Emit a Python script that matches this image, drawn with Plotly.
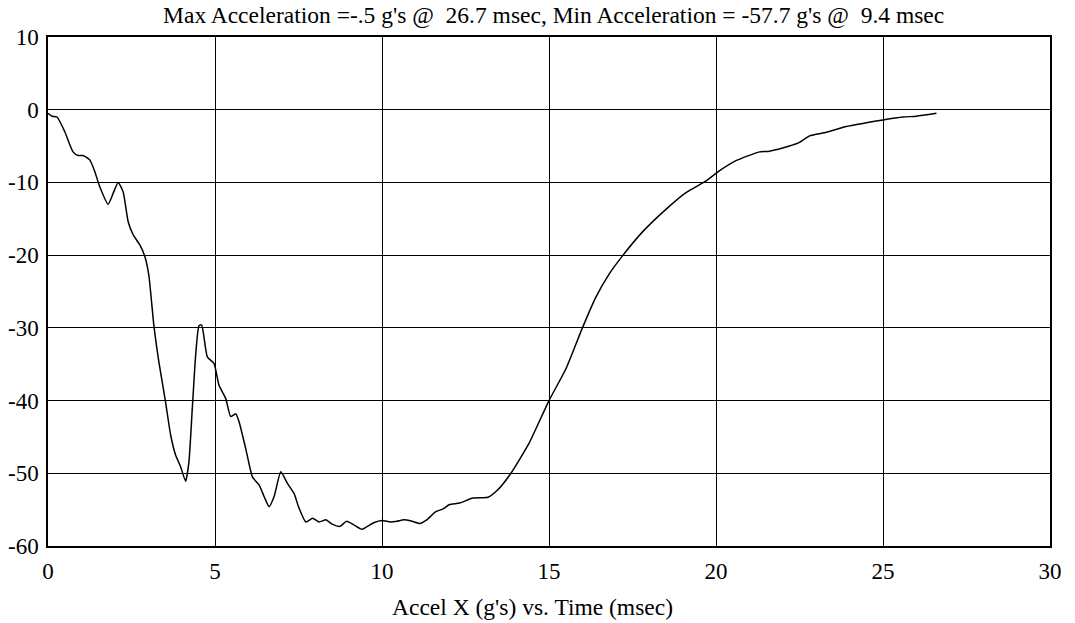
import plotly.graph_objects as go

time_ms = [0.00, 0.12, 0.27, 0.50, 0.75, 0.90, 1.05, 1.25, 1.40, 1.55, 1.80, 1.95, 2.10, 2.25,
           2.40, 2.55, 2.75, 2.90, 3.02, 3.17, 3.32, 3.52, 3.67, 3.82, 3.97, 4.12, 4.22, 4.32,
           4.42, 4.52, 4.60, 4.77, 4.97, 5.12, 5.32, 5.47, 5.62, 5.72, 5.92, 6.12, 6.32, 6.47,
           6.62, 6.77, 6.97, 7.17, 7.37, 7.50, 7.72, 7.92, 8.12, 8.32, 8.51, 8.74, 8.94, 9.16,
           9.40, 9.75, 10.00, 10.25, 10.45, 10.65, 10.90, 11.12, 11.34, 11.60, 11.83, 12.02,
           12.32, 12.72, 13.17, 13.46, 13.86, 14.40, 15.00, 15.50, 16.00, 16.40, 16.80, 17.20,
           17.80, 18.50, 19.10, 19.70, 20.10, 20.60, 21.30, 21.60, 22.20, 22.50, 22.80, 23.30,
           23.90, 24.50, 25.00, 25.60, 26.00, 26.60]
accel_g = [-0.5, -0.9, -1.0, -3.0, -5.8, -6.3, -6.3, -6.9, -8.5, -10.6, -13.0, -11.5, -10.0, -11.3,
           -15.4, -17.2, -18.6, -20.2, -22.8, -29.7, -34.7, -40.2, -44.7, -47.5, -49.1, -51.1, -48.4, -41.1,
           -33.8, -29.7, -29.6, -34.0, -34.9, -37.9, -39.7, -42.2, -41.8, -42.9, -46.6, -50.5, -51.6, -53.2,
           -54.6, -53.2, -49.8, -51.4, -52.8, -54.6, -56.7, -56.2, -56.7, -56.4, -57.0, -57.3, -56.6, -57.1,
           -57.7, -56.8, -56.5, -56.7, -56.6, -56.4, -56.6, -56.9, -56.4, -55.3, -54.9, -54.3,
           -54.1, -53.4, -53.3, -52.3, -50.0, -45.9, -40.0, -35.7, -30.0, -25.8, -22.6, -20.1,
           -16.8, -13.7, -11.4, -9.8, -8.4, -7.0, -5.8, -5.7, -5.0, -4.5, -3.6, -3.1,
           -2.3, -1.8, -1.4, -1.0, -0.9, -0.5]

title_text = "Max Acceleration =-.5 g's @  26.7 msec, Min Acceleration = -57.7 g's @  9.4 msec"
x_title = "Accel X (g's) vs. Time (msec)"
x_ticks = [0, 5, 10, 15, 20, 25, 30]
y_ticks = [10, 0, -10, -20, -30, -40, -50, -60]

FONT = "Liberation Serif"

fig = go.Figure()
fig.add_trace(go.Scatter(x=time_ms, y=accel_g, mode="lines",
                         line=dict(color="black", width=1.5, shape="spline", smoothing=0.5),
                         showlegend=False))

fig.update_layout(
    width=1075, height=623,
    margin=dict(l=48, r=25, t=37, b=77),
    paper_bgcolor="white", plot_bgcolor="white",
    font=dict(family=FONT, size=23, color="black"),
    title=dict(text=title_text, x=0.515, xanchor="center", y=0.976, yanchor="middle",
               font=dict(family=FONT, size=23.5, color="black")),
    annotations=[dict(text=x_title, xref="paper", yref="paper", x=0.484, y=0,
                      xanchor="center", yanchor="middle", yshift=-61, showarrow=False,
                      font=dict(family=FONT, size=23.5, color="black"))],
)
fig.update_xaxes(range=[0, 30], tickvals=x_ticks, ticktext=[str(v) for v in x_ticks],
                 showgrid=True, gridcolor="black", gridwidth=1.3,
                 showline=True, linecolor="black", linewidth=1.5, mirror=True,
                 ticks="outside", ticklen=4, tickcolor="rgba(0,0,0,0)",
                 zeroline=False, automargin=False,
                 tickfont=dict(family=FONT, size=23))
fig.update_yaxes(range=[-60, 10], tickvals=y_ticks, ticktext=[str(v) for v in y_ticks],
                 showgrid=True, gridcolor="black", gridwidth=1.3,
                 showline=True, linecolor="black", linewidth=1.5, mirror=True,
                 ticks="outside", ticklen=3, tickcolor="rgba(0,0,0,0)",
                 zeroline=False, automargin=False,
                 tickfont=dict(family=FONT, size=23))

fig.write_html("out.html")
